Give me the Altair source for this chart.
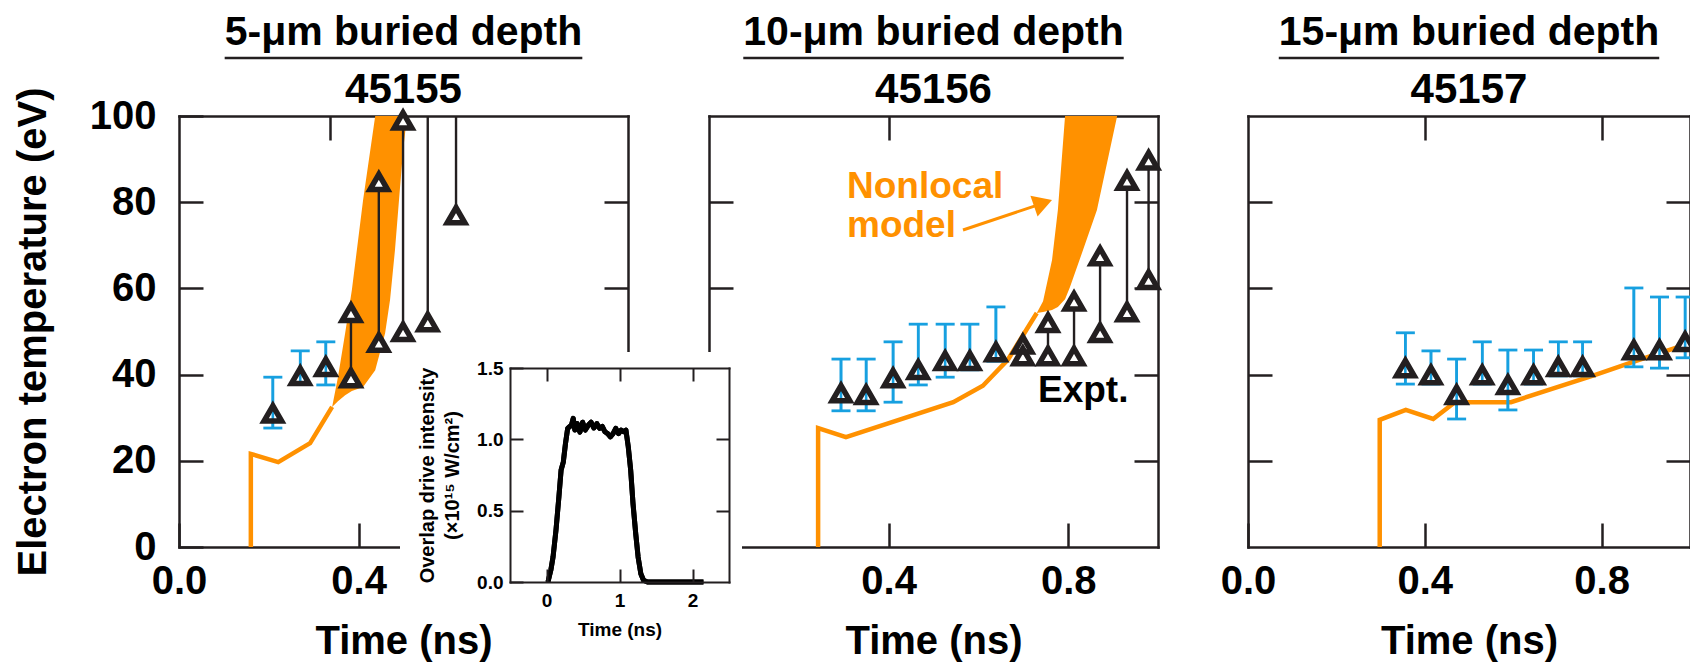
import altair as alt
import pandas as pd

# ---------------- data ----------------
PANEL_TITLES = ["5-μm buried depth", "10-μm buried depth", "15-μm buried depth"]
SHOT_NUMBERS = ["45155", "45156", "45157"]

# Nonlocal model, single-line part (time in ns, electron temperature in eV)
MODEL1_T = [0.160, 0.160, 0.221, 0.292, 0.341]
MODEL1_TE = [0.0, 21.6, 19.7, 24.1, 32.5]
MODEL2_T = [0.243, 0.243, 0.305, 0.544, 0.610, 0.666, 0.730]
MODEL2_TE = [0.0, 27.6, 25.5, 33.6, 37.4, 43.5, 54.3]
MODEL3_T = [0.298, 0.298, 0.357, 0.419, 0.468, 0.595, 0.784, 0.873, 1.0]
MODEL3_TE = [0.0, 29.5, 31.8, 29.7, 33.6, 33.6, 39.9, 43.0, 47.3]

# Nonlocal model, uncertainty band
BAND1_T = [0.341, 0.354, 0.370, 0.385, 0.410, 0.437, 0.459, 0.470, 0.481, 0.490, 0.499, 0.508]
BAND1_HI = [32.5, 39.4, 49.6, 59.6, 80.5, 100, 100, 100, 100, 100, 100, 100]
BAND1_LO = [32.5, 33.8, 35.2, 36.2, 37.1, 41.0, 49.6, 57.3, 68.9, 80.5, 92.0, 100]
BAND2_T = [0.730, 0.744, 0.764, 0.777, 0.793, 0.804, 0.833, 0.864, 0.909]
BAND2_HI = [54.3, 57.0, 66.6, 78.2, 100, 100, 100, 100, 100]
BAND2_LO = [54.3, 54.5, 55.0, 55.7, 57.5, 60.3, 68.9, 78.2, 100]

# Experiment: triangles
TRI1_T = [0.209, 0.270, 0.327, 0.383, 0.383, 0.445, 0.445, 0.499, 0.499, 0.554, 0.617]
TRI1_TE = [31.0, 39.7, 41.8, 39.2, 54.3, 47.4, 84.7, 49.9, 99.0, 52.2, 77.0]
TRI2_T = [0.294, 0.350, 0.410, 0.466, 0.526, 0.581, 0.639, 0.699, 0.699, 0.755, 0.755,
          0.813, 0.813, 0.871, 0.871, 0.931, 0.931, 0.979, 0.979]
TRI2_TE = [35.7, 35.3, 39.2, 41.1, 43.2, 43.2, 45.2, 44.3, 47.0, 44.3, 52.0,
           44.3, 57.0, 49.7, 67.5, 54.5, 85.0, 62.0, 89.7]
TRI3_T = [0.356, 0.414, 0.472, 0.530, 0.588, 0.646, 0.702, 0.757, 0.873, 0.931, 0.989]
TRI3_TE = [41.5, 39.9, 35.3, 39.9, 37.6, 39.9, 41.8, 41.8, 45.7, 45.7, 47.6]

# Experiment: blue error bars
ERR1_T = [0.209, 0.270, 0.327]
ERR1_LO = [27.6, 37.8, 37.6]
ERR1_HI = [39.4, 45.5, 47.6]
ERR2_T = [0.294, 0.350, 0.410, 0.466, 0.526, 0.581, 0.639]
ERR2_LO = [31.6, 31.6, 33.6, 37.6, 39.4, 41.1, 43.1]
ERR2_HI = [43.6, 43.6, 47.6, 51.7, 51.7, 51.7, 55.7]
ERR3_T = TRI3_T
ERR3_LO = [37.8, 37.8, 29.7, 37.8, 31.8, 37.8, 39.7, 39.7, 41.8, 41.5, 43.9]
ERR3_HI = [49.7, 45.5, 43.6, 47.6, 45.7, 45.7, 47.6, 47.6, 60.1, 58.0, 58.0]

# Experiment: black range lines
RNG1_T = [0.383, 0.445, 0.499, 0.554, 0.617]
RNG1_LO = [39.2, 47.4, 49.9, 52.2, 77.0]
RNG1_HI = [54.3, 84.7, 100, 100, 100]
RNG2_T = [0.699, 0.755, 0.813, 0.871, 0.931, 0.979]
RNG2_LO = [44.3, 44.3, 44.3, 49.7, 54.5, 62.0]
RNG2_HI = [47.0, 52.0, 57.0, 67.5, 85.0, 89.7]

# Inset: overlap drive intensity (1e15 W/cm^2) vs time (ns)
PULSE_T = [0.02, 0.06, 0.09, 0.13, 0.17, 0.20, 0.23, 0.26, 0.29, 0.32, 0.342, 0.366, 0.389,
           0.421, 0.458, 0.495, 0.532, 0.574, 0.611, 0.648, 0.690, 0.727, 0.764, 0.801,
           0.838, 0.875, 0.912, 0.949, 0.986, 1.023, 1.060, 1.088, 1.120, 1.153, 1.185,
           1.222, 1.255, 1.292, 1.329, 1.384, 1.6, 1.9, 2.15]
PULSE_I = [0.0, 0.084, 0.177, 0.364, 0.598, 0.785, 0.84, 0.97, 1.077, 1.09, 1.10, 1.147,
           1.065, 1.11, 1.05, 1.12, 1.065, 1.10, 1.12, 1.08, 1.11, 1.077, 1.09, 1.053,
           1.04, 1.018, 1.04, 1.077, 1.04, 1.065, 1.053, 1.065, 0.948, 0.785, 0.55,
           0.34, 0.175, 0.058, 0.012, 0.0, 0.0, 0.0, 0.0]

# tick labels shown on each panel's time axis (others sit under the inset)
PANEL_XTICKS = [[0.0, 0.4], [0.4, 0.8], [0.0, 0.4, 0.8]]
TE_TICKS = [0, 20, 40, 60, 80, 100]
INSET_XTICKS = [0, 1, 2]
INSET_YTICKS = [0.0, 0.5, 1.0, 1.5]

# ---------------- style / layout ----------------
FONT = "Liberation Sans"
INK = "#231f20"
ORANGE = "#ff9100"
BLUE = "#17a0e0"

W, H = 1511, 431
PANELS = [[0, 449], [530, 979], [1069, 1511]]
INSET_XR = [331, 550]
INSET_YR = [466, 252]

ARIAL_BOLD = {"0": .556, "1": .556, "5": .556, "-": .333, "μ": .611, "m": .889, " ": .278,
              "b": .611, "u": .611, "r": .389, "i": .278, "e": .556, "d": .611, "p": .611,
              "t": .333, "h": .611}


def text_width(s, size):
    return sum(ARIAL_BOLD.get(c, .6) for c in s) * size


def ax(orient, offset, values, labels=False, fmt=None, title=None, size=24, width=2.5,
       lab_size=40, lab_pad=0, title_size=40, extra=None, z=0):
    kw = dict(orient=orient, offset=offset, values=values, labels=labels, grid=False,
              domainColor=INK, domainWidth=width, domainCap="square",
              tickColor=INK, tickWidth=width, tickSize={"expr": str(-size)},
              zindex=z, title=title)
    if labels:
        kw.update(format=fmt, labelFont=FONT, labelFontSize=lab_size, labelFontWeight="bold",
                  labelColor="black", labelPadding=lab_pad, labelFlush=False,
                  labelOverlap=False)
    if title is not None:
        kw.update(titleFont=FONT, titleFontSize=title_size, titleFontWeight="bold",
                  titleColor="black")
    if extra:
        kw.update(extra)
    return alt.Axis(**kw)


def X(i, field="t", axis=None):
    return alt.X(f"{field}:Q", scale=alt.Scale(domain=[0, 1], range=PANELS[i]), axis=axis)


def Y(field, axis=None):
    return alt.Y(f"{field}:Q", scale=alt.Scale(domain=[0, 100]), axis=axis)


def bottom_axis(i):
    return ax("bottom", 0, PANEL_XTICKS[i], labels=True, fmt=".1f", title="Time (ns)",
              lab_pad=38, extra=dict(titleY=106, titleBaseline="alphabetic"))


TRI_SIZE = 310
TRI_STROKE = 5.5


def panel_layers(i, model_t, model_te, tri_t, tri_te, err_t, err_lo, err_hi,
                 rng_t=None, rng_lo=None, rng_hi=None, band=None):
    layers = []
    if i == 0:
        yax = ax("left", 0, TE_TICKS, labels=True, fmt="d",
                 title="Electron temperature (eV)", lab_pad=47,
                 extra=dict(titleX=-134, titleBaseline="alphabetic"))
        top_vals = [0.336]
    else:
        yax = ax("left", -PANELS[i][0], TE_TICKS[1:-1])
        top_vals = [0.4, 0.8]
    top_ax = ax("top", 0, top_vals)
    right_ax = ax("right", -(W - PANELS[i][1]), TE_TICKS[1:-1])

    mdf = pd.DataFrame({"t": model_t, "Te": model_te, "i": list(range(len(model_t)))})
    layers.append(alt.Chart(mdf).mark_line(color=ORANGE, strokeWidth=4.5, strokeJoin="miter")
                  .encode(x=X(i, axis=bottom_axis(i)), y=Y("Te", yax), order="i:Q"))
    if band is not None:
        bdf = pd.DataFrame({"t": band[0], "hi": band[1], "lo": band[2]})
        layers.append(alt.Chart(bdf).mark_area(color=ORANGE, opacity=1)
                      .encode(x=X(i), y=Y("lo"), y2="hi:Q"))
    if rng_t is not None:
        rdf = pd.DataFrame({"t": rng_t, "lo": rng_lo, "hi": rng_hi})
        layers.append(alt.Chart(rdf).mark_rule(color=INK, strokeWidth=2.4)
                      .encode(x=X(i), y=Y("lo"), y2="hi:Q"))
    edf = pd.DataFrame({"t": err_t, "lo": err_lo, "hi": err_hi})
    layers.append(alt.Chart(edf).mark_rule(color=BLUE, strokeWidth=2.6)
                  .encode(x=X(i), y=Y("lo"), y2="hi:Q"))
    for f in ("lo", "hi"):
        layers.append(alt.Chart(edf).mark_tick(color=BLUE, orient="horizontal", size=19,
                                               thickness=2.8, opacity=1)
                      .encode(x=X(i), y=Y(f)))
    tdf = pd.DataFrame({"t": tri_t, "Te": tri_te})
    layers.append(alt.Chart(tdf).mark_point(shape="triangle-up", filled=True, fill="white",
                                            strokeWidth=0, size=TRI_SIZE, opacity=1)
                  .encode(x=X(i), y=Y("Te")))
    layers.append(alt.Chart(edf).mark_rule(color=BLUE, strokeWidth=2.6)
                  .encode(x=X(i), y=Y("lo"), y2="hi:Q"))
    layers.append(alt.Chart(tdf).mark_point(shape="triangle-up", filled=False, stroke=INK,
                                            strokeWidth=TRI_STROKE, size=TRI_SIZE, opacity=1,
                                            strokeJoin="miter")
                  .encode(x=X(i, axis=top_ax), y=Y("Te", right_ax)))
    return layers


layers = []
layers += panel_layers(0, MODEL1_T, MODEL1_TE, TRI1_T, TRI1_TE, ERR1_T, ERR1_LO, ERR1_HI,
                       RNG1_T, RNG1_LO, RNG1_HI, band=(BAND1_T, BAND1_HI, BAND1_LO))
layers += panel_layers(1, MODEL2_T, MODEL2_TE, TRI2_T, TRI2_TE, ERR2_T, ERR2_LO, ERR2_HI,
                       RNG2_T, RNG2_LO, RNG2_HI, band=(BAND2_T, BAND2_HI, BAND2_LO))
layers += panel_layers(2, MODEL3_T, MODEL3_TE, TRI3_T, TRI3_TE, ERR3_T, ERR3_LO, ERR3_HI)

one = pd.DataFrame({"k": [0]})

# annotations in panel 2
layers.append(alt.Chart(pd.DataFrame({"label": ["Nonlocal\nmodel"]}))
              .mark_text(align="left", baseline="alphabetic", font=FONT, fontSize=37,
                         fontWeight="bold", color=ORANGE, lineBreak="\n", lineHeight=39)
              .encode(x=alt.value(668), y=alt.value(82), text="label:N"))
layers.append(alt.Chart(one).mark_rule(color=ORANGE, strokeWidth=3)
              .encode(x=alt.value(784), y=alt.value(114), x2=alt.value(866), y2=alt.value(86.6)))
layers.append(alt.Chart(one).mark_point(shape="triangle-up", filled=True, color=ORANGE,
                                        size=484, angle=71, opacity=1)
              .encode(x=alt.value(864), y=alt.value(87)))
layers.append(alt.Chart(pd.DataFrame({"label": ["Expt."]}))
              .mark_text(align="left", baseline="alphabetic", font=FONT, fontSize=37,
                         fontWeight="bold", color="black")
              .encode(x=alt.value(859), y=alt.value(286), text="label:N"))

# white background of the inset
layers.append(alt.Chart(one).mark_rect(color="white")
              .encode(x=alt.value(221), x2=alt.value(563), y=alt.value(236), y2=alt.value(496)))

# inset
pdf = pd.DataFrame({"t": PULSE_T, "I": PULSE_I})
ix = alt.Scale(domain=[-0.5, 2.5], range=INSET_XR)
iy = alt.Scale(domain=[0, 1.5], range=INSET_YR)
inset_bottom = ax("bottom", 35, INSET_XTICKS, labels=True, fmt="d", title="Time (ns)", size=13,
                  width=2, lab_size=19, lab_pad=22, title_size=19, z=1,
                  extra=dict(titleY=53, titleBaseline="alphabetic"))
inset_left = ax("left", -INSET_XR[0], INSET_YTICKS, labels=True, fmt=".1f",
                title=["Overlap drive intensity", "(×10¹⁵ W/cm²)"], size=13, width=2,
                lab_size=19, lab_pad=20, title_size=20, z=1,
                extra=dict(titleX=-77, titleBaseline="alphabetic", titleLineHeight=25))
inset_top = ax("top", -INSET_YR[1], INSET_XTICKS, size=13, width=2, z=1)
inset_right = ax("right", -(W - INSET_XR[1]), INSET_YTICKS[1:-1], size=13, width=2, z=1)
layers.append(alt.Chart(pdf).mark_line(color="black", strokeWidth=5, strokeJoin="round")
              .encode(x=alt.X("t:Q", scale=ix, axis=inset_bottom),
                      y=alt.Y("I:Q", scale=iy, axis=inset_left)))
layers.append(alt.Chart(pdf).mark_line(color="black", strokeWidth=5, strokeJoin="round")
              .encode(x=alt.X("t:Q", scale=ix, axis=inset_top),
                      y=alt.Y("I:Q", scale=iy, axis=inset_right)))

# panel titles
TITLE_SIZE = 41
for i in range(3):
    cx = (PANELS[i][0] + PANELS[i][1]) / 2
    tw = text_width(PANEL_TITLES[i], TITLE_SIZE)
    layers.append(alt.Chart(pd.DataFrame({"label": [PANEL_TITLES[i]]}))
                  .mark_text(align="center", baseline="alphabetic", font=FONT,
                             fontSize=TITLE_SIZE, fontWeight="bold", color="black")
                  .encode(x=alt.value(cx), y=alt.value(-71), text="label:N"))
    layers.append(alt.Chart(one).mark_rule(color=INK, strokeWidth=2.5)
                  .encode(x=alt.value(cx - tw / 2), x2=alt.value(cx + tw / 2),
                          y=alt.value(-58)))
    layers.append(alt.Chart(pd.DataFrame({"label": [SHOT_NUMBERS[i]]}))
                  .mark_text(align="center", baseline="alphabetic", font=FONT,
                             fontSize=TITLE_SIZE + 1, fontWeight="bold", color="black")
                  .encode(x=alt.value(cx), y=alt.value(-13), text="label:N"))

chart = (alt.layer(*layers)
         .resolve_scale(x="independent", y="independent")
         .resolve_axis(x="independent", y="independent")
         .properties(width=W, height=H, background="white",
                     autosize=alt.AutoSizeParams(type="none"),
                     padding={"left": 171, "top": 108, "right": 0, "bottom": 117})
         .configure_view(stroke=None))

chart.save("out.html", embed_options={"renderer": "svg", "actions": False})
